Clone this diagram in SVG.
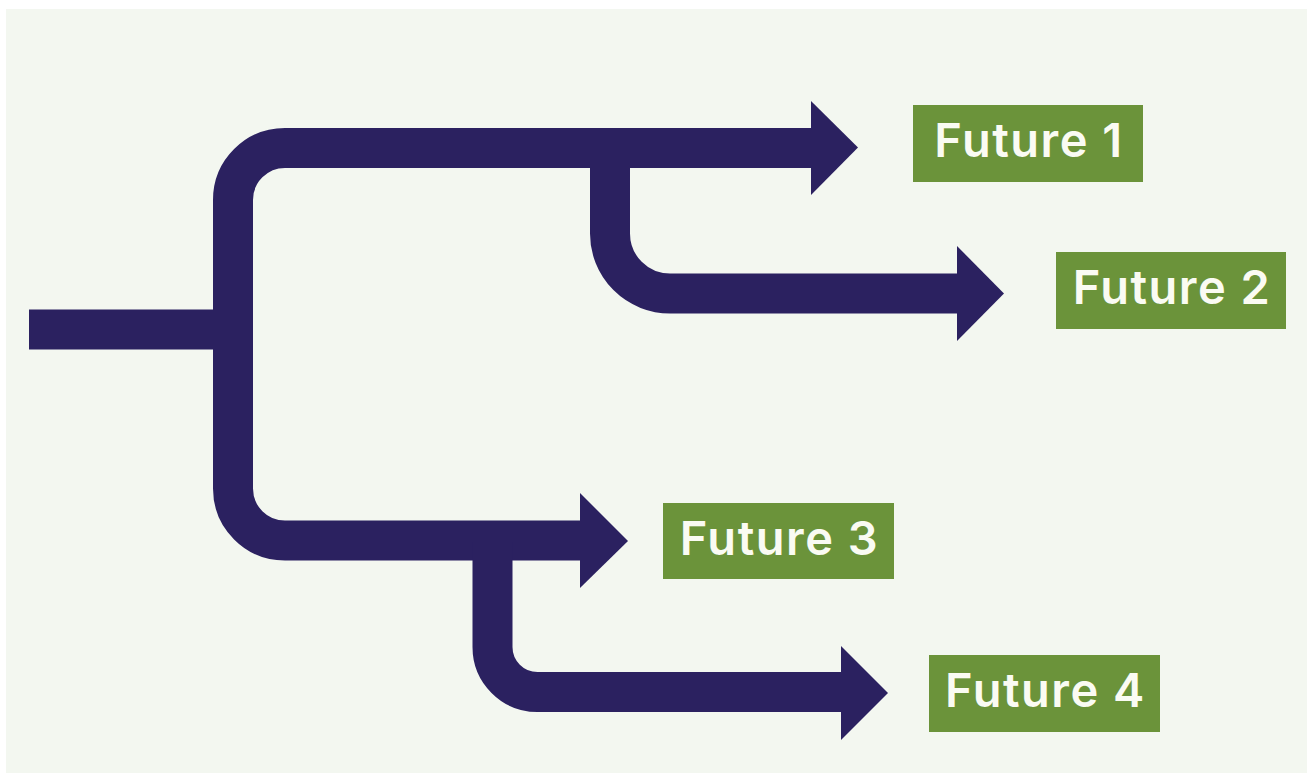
<svg xmlns="http://www.w3.org/2000/svg" width="1307" height="773" viewBox="0 0 1307 773">
  <style>
    .flow { fill: none; stroke: #2B2160; stroke-width: 40; stroke-linecap: butt; stroke-linejoin: miter; }
    .head { fill: #2B2160; }
    .box { fill: #6B933A; }
    .label { fill: #FAFBF3; font-family: Inter, "Liberation Sans", sans-serif; font-weight: 600; font-size: 47px; letter-spacing: 1.5px; text-anchor: middle; }
  </style>
  <rect x="0" y="0" width="1307" height="773" fill="#FFFFFF"/>
  <rect x="6" y="9" width="1301" height="764" fill="#F3F7F0"/>

  <g id="connectors">
    <!-- incoming stem -->
    <path class="flow" d="M 29 329.5 H 233" stroke-width="39"/>
    <!-- main trunk: top bar, vertical, bottom bar -->
    <path class="flow" d="M 812 148 H 285 A 52 52 0 0 0 233 200 V 488.5 A 52 52 0 0 0 285 540.5 H 581"/>
    <!-- branch to Future 2 -->
    <path class="flow" d="M 610 150 V 233.5 A 60 60 0 0 0 670 293.5 H 958"/>
    <!-- branch to Future 4 -->
    <path class="flow" d="M 492.5 542 V 647 A 45 45 0 0 0 537.5 692 H 842"/>
    <!-- arrowheads -->
    <polygon class="head" points="811,101 858,147.5 811,195"/>
    <polygon class="head" points="957,246 1004,293.5 957,341"/>
    <polygon class="head" points="580,493 628,541 580,588"/>
    <polygon class="head" points="841,646 888,693 841,740"/>
  </g>

  <g id="future1">
    <rect class="box" x="913" y="105" width="230" height="77"/>
    <text class="label" x="1029" y="157">Future 1</text>
  </g>
  <g id="future2">
    <rect class="box" x="1056" y="252" width="230" height="77"/>
    <text class="label" x="1172" y="304">Future 2</text>
  </g>
  <g id="future3">
    <rect class="box" x="663" y="503" width="231" height="76"/>
    <text class="label" x="779.5" y="555">Future 3</text>
  </g>
  <g id="future4">
    <rect class="box" x="929" y="655" width="231" height="77"/>
    <text class="label" x="1045.5" y="707">Future 4</text>
  </g>
</svg>
